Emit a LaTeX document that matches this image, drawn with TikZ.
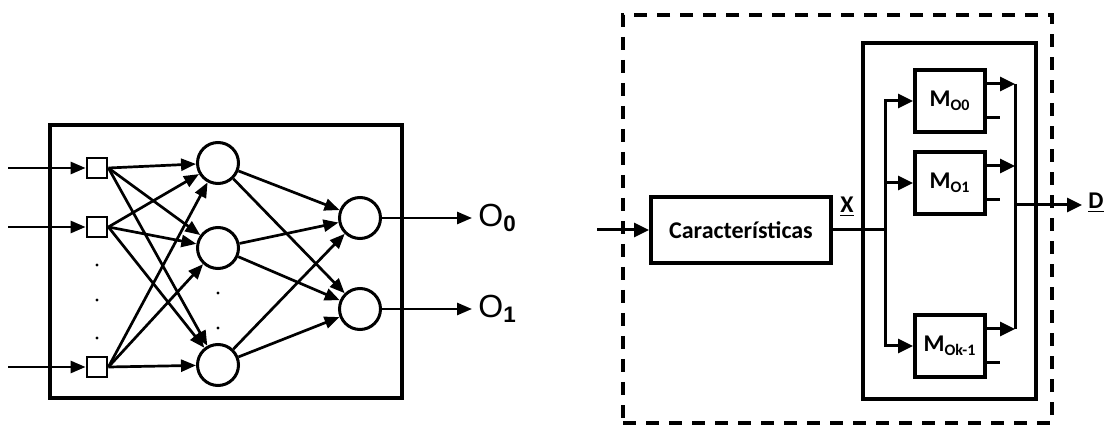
\documentclass[tikz,border=0pt]{standalone}
\usepackage{fontspec}
\setmainfont{Carlito}
\newfontfamily\lblfont{Liberation Sans}
\usetikzlibrary{arrows.meta}
\tikzset{
  frame/.style={draw=black, line width=2pt, inner sep=0pt},
  inp/.style={draw=black, line width=1.4pt, minimum size=10pt, inner sep=0pt, fill=white},
  neuron/.style={circle, draw=black, line width=1.5pt, minimum size=20.5pt, inner sep=0pt, fill=white},
  blk/.style={
    draw=black,
    line width=2pt,
    inner sep=0pt,
    font=\bfseries\fontsize{12}{14}\selectfont,
    align=center
  },
  arr/.style={line width=1.35pt, -{Triangle[length=7.5pt,width=6pt]}},
  barr/.style={line width=1.5pt, -{Triangle[length=7.5pt,width=7pt]}},
  wire/.style={line width=1.5pt},
  olbl/.style={font=\lblfont\fontsize{16}{18}\selectfont, inner sep=0pt, anchor=west},
  vlbl/.style={font=\bfseries\fontsize{12}{14}\selectfont, inner sep=0pt, anchor=west},
}
\begin{document}
\begin{tikzpicture}[x=0.5pt, y=-0.5pt]
  \useasboundingbox (0,0) rectangle (1111,426);
  % red neuronal
  \node[frame, minimum width=176pt, minimum height=136.5pt] (net) at (226,261.5) {};
  \foreach \n/\y in {1/168,2/227,3/367} {
    \coordinate (s\n) at (8,\y);
    \node[inp] (i\n) at (97,\y) {};
    \draw[arr] (s\n) -- (i\n.west);
  }
  \foreach \n/\y in {1/163,2/248,3/365}
    \node[neuron] (h\n) at (218,\y) {};
  \foreach \n/\y in {1/218,2/309}
    \node[neuron] (o\n) at (360,\y) {};
  \foreach \i in {1,2,3}
    \foreach \j in {1,2,3}
      \draw[arr] (i\i.east) -- (h\j);
  \foreach \j in {1,2,3}
    \foreach \k in {1,2}
      \draw[arr] (h\j) -- (o\k);
  \foreach \y in {265,300,338}
    \fill (97,\y) circle (0.8pt);
  \foreach \y in {293,328}
    \fill (218,\y) circle (0.8pt);
  \foreach \k/\y/\s in {1/218/0,2/309/1} {
    \coordinate (e\k) at (472,\y);
    \draw[arr] (o\k.east) -- (e\k);
    \node[olbl] (ol\k) at (478,\y) {O\textsubscript{\textbf{\s}}};
  }
  % sistema
  \node[frame, dash pattern=on 6.5pt off 5pt, minimum width=214.5pt, minimum height=204pt] (sys) at (837.5,219) {};
  \node[frame, minimum width=86.5pt, minimum height=178pt] (bank) at (949.5,221) {};
  \node[blk, minimum width=90pt, minimum height=33pt] (car) at (741,230) {Características};
  \coordinate (xin) at (597,230);
  \draw[barr] (xin) -- (car.west);
  \node[vlbl] (xl) at (840,207) {\underline{X}};
  \coordinate (xb) at (885,230);
  \coordinate (cb) at (1015,205);
  \coordinate (dout) at (1082,205);
  \draw[wire] (car.east) -- (xb);
  \foreach \n/\y/\s in {1/101/O0,2/183/O1,3/346/Ok-1} {
    \node[blk, minimum width=35pt, minimum height=31pt] (m\n) at (950,\y) {M\textsubscript{\s}};
    \draw[barr] (xb) |- (m\n.west);
    \draw[barr] ([yshift=8.5pt]m\n.east) -- ([yshift=8.5pt]m\n.east -| cb);
    \draw[wire] ([yshift=-8.5pt]m\n.east) -- ++(13,0);
  }
  \draw[wire] ([yshift=8.5pt]m1.east -| cb) -- ([yshift=8.5pt]m3.east -| cb);
  \draw[barr] (cb) -- (dout);
  \node[vlbl] (dl) at (1088,203) {\underline{D}};
\end{tikzpicture}
\end{document}
